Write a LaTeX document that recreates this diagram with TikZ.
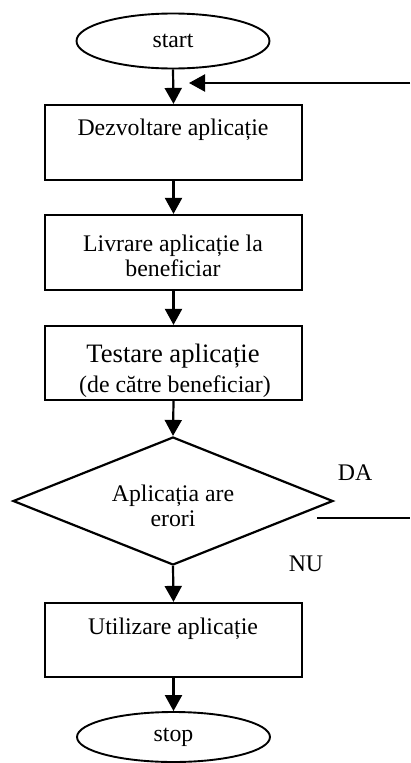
\documentclass[tikz,border=0pt]{standalone}
\usepackage{fontspec}
\setmainfont{Liberation Serif}
\usetikzlibrary{shapes.geometric,arrows.meta}
\tikzset{
  x=1pt,y=-1pt,
  line/.style={line width=2.2pt,black},
  arr/.style={line,-{Triangle[length=16pt,width=17pt]}},
  procbox/.style={draw,line width=2.2pt,rectangle,minimum width=257pt,minimum height=75pt,inner sep=0pt},
  termin/.style={draw,line width=1.9pt,ellipse,minimum width=193pt,minimum height=55pt,inner sep=0pt,font=\fontsize{23.8}{25}\selectfont},
  decis/.style={draw,line width=2.2pt,diamond,minimum width=320pt,minimum height=128pt,inner sep=0pt},
  txt/.style={inner sep=0pt,align=center,font=\fontsize{23.8}{25}\selectfont},
  bigtxt/.style={inner sep=0pt,align=center,font=\fontsize{26.6}{27}\selectfont}
}
\begin{document}
\begin{tikzpicture}
\useasboundingbox (0,0) rectangle (410,763);
\fill[white] (0,0) rectangle (410,763);
% shapes
\node[termin] (start) at (173,41) {start};
\node[procbox] (b1) at (173.5,142.5) {};
\node[procbox] (b2) at (173.5,252.5) {};
\node[procbox,minimum height=74pt] (b3) at (173.5,363) {};
\node[decis] (d) at (173,501) {};
\node[procbox,minimum height=74pt] (b4) at (173.5,640) {};
\node[termin,minimum height=50pt] (stop) at (173.5,737) {stop};
% texts
\node[txt] (t1) at (173,130) {Dezvoltare aplicație};
\node[txt] (t2) at (173,256) {Livrare aplicație la\\beneficiar};
\node[bigtxt] (t3a) at (173,356) {Testare aplicație};
\begin{scope}
\clip (44,326) rectangle (302,396);
\node[txt] (t3b) at (175,387) {(de către beneficiar)};
\end{scope}
\node[txt] (td) at (173,506) {Aplicația are\\erori};
\node[txt] (t4) at (173,629) {Utilizare aplicație};
\node[txt] (da) at (355,473) {DA};
\node[txt] (nu) at (306,564) {NU};
% connectors
\coordinate (fbR) at (410,83);
\coordinate (fbL) at (189,83);
\coordinate (daL) at (317,518);
\coordinate (daR) at (410,518);
\draw[arr] (start.south) -- (b1.north);
\draw[arr] (fbR) -- (fbL);
\draw[arr] (b1.south) -- (b2.north);
\draw[arr] (b2.south) -- (b3.north);
\draw[arr] (b3.south) -- (d.north);
\draw[arr] (d.south) -- (b4.north);
\draw[arr] (b4.south) -- (stop.north);
\draw[line] (daL) -- (daR);
\end{tikzpicture}
\end{document}
